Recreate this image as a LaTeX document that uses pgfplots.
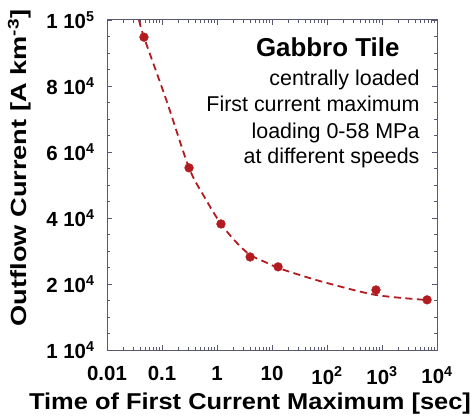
\documentclass[border=0pt]{standalone}
\usepackage{pgfplots}
\pgfplotsset{compat=1.18}
\usepackage{fontspec}
\setmainfont{Liberation Sans}
\newfontfamily\xlabfont[FakeStretch=1.11]{Liberation Sans}
\newfontfamily\ylabfont[FakeStretch=1.24]{Liberation Sans}
\definecolor{datared}{RGB}{178,28,32}
\definecolor{axisgray}{RGB}{88,88,112}

\begin{document}
\begin{tikzpicture}[x=1bp,y=1bp]
\useasboundingbox (0,0) rectangle (474,416);
\begin{axis}[
  at={(107bp,66bp)}, anchor=south west,
  width=330bp, height=330bp, scale only axis,
  xmode=log, xmin=0.01, xmax=10000,
  ymin=0, ymax=100000,
  xtick={0.01,0.1,1,10,100,1000,10000},
  xticklabels={0.01,0.1,1,10,10\textsuperscript{2},10\textsuperscript{3},10\textsuperscript{4}},
  ytick={0,20000,40000,60000,80000,100000},
  yticklabels={1 10\textsuperscript{4},2 10\textsuperscript{4},4 10\textsuperscript{4},6 10\textsuperscript{4},8 10\textsuperscript{4},1 10\textsuperscript{5}},
  minor y tick num=3,
  scaled y ticks=false,
  tick align=inside,
  xtick pos=both, ytick pos=both,
  xticklabel pos=lower, yticklabel pos=left,
  major tick length=5bp, minor tick length=3bp,
  axis line style={axisgray, line width=1bp},
  every tick/.style={axisgray, line width=0.8bp},
  ticklabel style={font=\fontsize{20.5}{22}\selectfont\bfseries},
  xticklabel style={yshift=-13bp},
  yticklabel style={xshift=-9bp},
  clip=true,
]
% fitted trend through the measurements
\addplot[datared, line width=1.8bp, dash pattern=on 7bp off 4.5bp, smooth] coordinates {
  (0.0382,100000) (0.047,94800) (0.1233,75150) (0.3097,55200) (0.605,46060)
  (1.18,38200) (2.31,32420) (4.0,28800) (7.46,26670) (12.9,24900)
  (32,22730) (100,20300) (777,16670) (6600,15150)
};
% measured first current maxima
\addplot[only marks, mark=*, mark size=4.4bp, color=datared,
  mark options={draw=datared, fill=datared}] coordinates {
  (0.047,94800) (0.31,55200) (1.18,38200) (4.0,28200)
  (12.9,25200) (777,18200) (6600,15200)
};
\end{axis}
\node[anchor=base east, font=\fontsize{26}{28}\selectfont\bfseries] at (403,360) {Gabbro Tile};
\node[anchor=base east, font=\fontsize{21.5}{24}\selectfont] at (423,331) {centrally loaded};
\node[anchor=base east, font=\fontsize{21.5}{24}\selectfont] at (423,305) {First current maximum};
\node[anchor=base east, font=\fontsize{21.5}{24}\selectfont] at (423,278) {loading 0-58 MPa};
\node[anchor=base east, font=\fontsize{21.5}{24}\selectfont] at (423,253) {at different speeds};
\node[anchor=base, font=\xlabfont\fontsize{23}{25}\selectfont\bfseries] at (250,7) {Time of First Current Maximum [sec]};
\node[rotate=90, anchor=base, font=\ylabfont\fontsize{22}{24}\selectfont\bfseries] at (26,248) {Outflow Current [A km\textsuperscript{-3}]};
\end{tikzpicture}
\end{document}
